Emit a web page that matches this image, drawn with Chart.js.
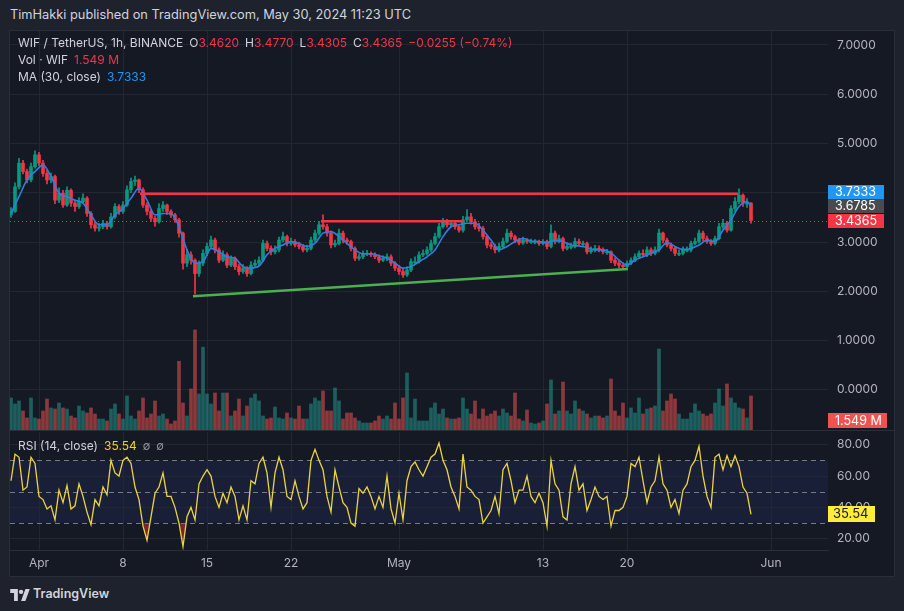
<!DOCTYPE html>
<html>
<head>
<meta charset="utf-8">
<script src="https://cdn.jsdelivr.net/npm/chart.js@4.4.1/dist/chart.umd.min.js"></script>
<style>
  html, body { margin: 0; padding: 0; }
  body { width: 904px; height: 611px; background: #1e222d; position: relative; overflow: hidden;
         font-family: Inter, "Noto Sans", sans-serif; }
  #title { position: absolute; left: 10px; top: 7px; font-size: 12.8px; color: #d1d4dc; }
  #frame { position: absolute; left: 9px; top: 30px; width: 884px; height: 545px;
           background: #151924; border: 1px solid #2a2e39; }
  canvas { position: absolute; }
  #main { left: 10px; top: 31px; }
  #rsi { left: 10px; top: 431px; }
  #sep { position: absolute; left: 10px; top: 430px; width: 884px; height: 1px; background: #2a2e39; }
  .legend { position: absolute; left: 18px; font-size: 12px; line-height: 16px; color: #d1d4dc; white-space: pre; }
  .r { color: #f23645; }
  .b { color: #2196f3; }
  .yl { color: #f5d21e; }
  .gr { color: #9598a1; font-size: 11px; }
  .sp { margin-left: 6px; }
  #footer { position: absolute; left: 10px; top: 585px; height: 18px; color: #d1d4dc; font-size: 12.5px; font-weight: 600; }
  #footer svg { position: absolute; left: 0; top: 3px; }
  #footer span { position: absolute; left: 23px; top: 1px; white-space: nowrap; }
</style>
</head>
<body>
<div id="title">TimHakki published on TradingView.com, May 30, 2024 11:23 UTC</div>
<div id="frame"></div>
<canvas id="main" width="884" height="399"></canvas>
<div id="sep"></div>
<canvas id="rsi" width="884" height="145"></canvas>

<div class="legend" style="top:35px">WIF / TetherUS, 1h, BINANCE<span class="sp">O</span><span class="r">3.4620</span><span class="sp">H</span><span class="r">3.4770</span><span class="sp">L</span><span class="r">3.4305</span><span class="sp">C</span><span class="r">3.4365</span><span class="sp r">−0.0255 (−0.74%)</span></div>
<div class="legend" style="top:52px">Vol · WIF<span class="sp r">1.549 M</span></div>
<div class="legend" style="top:69px">MA (30, close)<span class="sp b">3.7333</span></div>
<div class="legend" style="top:438px">RSI (14, close)<span class="sp yl">35.54</span><span class="sp gr">∅</span><span class="sp gr">∅</span></div>

<div id="footer">
  <svg width="20" height="13" viewBox="0 0 36 24"><path d="M14 24H7V9H0V2h14v22z" fill="#d1d4dc"/><circle cx="20" cy="7" r="4" fill="#d1d4dc"/><path d="M28 24h-8l8-22h8z" fill="#d1d4dc"/></svg>
  <span>TradingView</span>
</div>

<script>
"use strict";

// 8-hour candles; time in days from Apr 1 00:00 UTC
var startDay = -2.3333;
var stepDay = 1 / 3;
var firstOpen = 3.55;

var closes = [
  3.62,4.12,4.60,4.43,4.26,4.53,4.77,4.60,4.39,4.26,
  4.33,3.85,3.99,3.75,4.05,3.79,3.72,3.82,3.89,3.58,
  3.35,3.28,3.31,3.38,3.31,3.51,3.72,3.62,3.75,4.06,
  4.23,4.26,4.06,3.75,3.62,3.48,3.41,3.68,3.75,3.62,
  3.55,3.45,3.18,2.57,2.74,2.63,2.36,2.57,2.77,2.91,
  3.04,2.84,2.63,2.74,2.53,2.67,2.50,2.40,2.47,2.36,
  2.53,2.57,2.63,2.97,2.87,2.80,2.84,3.04,3.11,2.97,
  3.01,2.94,2.91,2.84,2.87,3.04,3.18,3.35,3.31,3.18,
  2.94,2.97,3.18,3.04,3.01,2.87,2.67,2.70,2.77,2.77,
  2.74,2.70,2.63,2.67,2.70,2.57,2.47,2.40,2.33,2.43,
  2.60,2.60,2.74,2.77,2.84,2.97,3.11,3.31,3.41,3.35,
  3.38,3.31,3.24,3.45,3.51,3.41,3.31,3.28,3.11,2.94,
  2.91,2.84,2.91,3.01,3.18,3.11,3.04,2.98,3.04,3.01,
  3.01,3.01,2.97,3.01,2.91,3.18,3.01,3.07,2.87,2.91,
  2.91,3.01,2.97,2.97,2.80,2.84,2.87,2.84,2.80,2.80,
  2.63,2.57,2.53,2.50,2.57,2.63,2.70,2.77,2.74,2.84,
  2.77,2.84,3.18,3.04,2.94,2.87,2.77,2.77,2.84,2.84,
  2.97,3.01,3.18,3.07,3.01,2.97,3.07,3.31,3.38,3.24,
  3.68,3.82,3.95,3.79,3.79,3.4365
];

var highs = [
  3.70,4.20,4.70,4.66,4.48,4.60,4.85,4.82,4.66,4.45,
  4.40,4.36,4.10,4.05,4.12,4.08,3.85,3.90,3.98,3.92,
  3.62,3.40,3.38,3.44,3.42,3.58,3.78,3.76,3.82,4.14,
  4.30,4.34,4.28,4.10,3.80,3.65,3.52,3.78,3.82,3.77,
  3.66,3.58,3.48,3.20,2.85,2.80,2.66,2.62,2.84,2.98,
  3.12,3.08,2.88,2.82,2.78,2.72,2.70,2.55,2.54,2.50,
  2.60,2.64,2.70,3.04,3.02,2.92,2.92,3.10,3.20,3.14,
  3.08,3.05,3.00,2.95,2.94,3.10,3.24,3.42,3.55,3.36,
  3.22,3.04,3.26,3.22,3.08,3.04,2.90,2.76,2.82,2.83,
  2.80,2.78,2.74,2.72,2.76,2.74,2.60,2.52,2.46,2.50,
  2.66,2.70,2.80,2.84,2.90,3.04,3.18,3.38,3.48,3.46,
  3.44,3.42,3.36,3.52,3.66,3.58,3.46,3.38,3.32,3.14,
  2.99,2.96,2.98,3.08,3.26,3.22,3.14,3.08,3.10,3.07,
  3.06,3.05,3.04,3.05,3.04,3.35,3.22,3.14,3.10,2.98,
  2.98,3.08,3.06,3.02,3.00,2.90,2.93,2.92,2.88,2.85,
  2.82,2.68,2.62,2.58,2.62,2.68,2.76,2.82,2.84,2.90,
  2.88,2.90,3.26,3.20,3.08,2.98,2.90,2.84,2.90,2.90,
  3.02,3.08,3.24,3.22,3.12,3.05,3.12,3.38,3.46,3.42,
  3.74,3.90,4.08,3.98,3.88,3.80
];

var lows = [
  3.50,3.60,4.08,4.38,4.20,4.22,4.50,4.55,4.33,4.18,
  4.20,3.78,3.80,3.70,3.72,3.72,3.62,3.68,3.78,3.52,
  3.28,3.22,3.22,3.27,3.26,3.28,3.48,3.56,3.58,3.72,
  4.00,4.15,4.00,3.70,3.55,3.42,3.32,3.38,3.62,3.56,
  3.50,3.40,3.10,2.45,2.50,2.55,1.94,2.30,2.52,2.72,
  2.86,2.78,2.58,2.60,2.48,2.50,2.44,2.33,2.36,2.30,
  2.33,2.48,2.52,2.60,2.82,2.74,2.76,2.80,3.00,2.92,
  2.93,2.90,2.86,2.80,2.80,2.84,3.00,3.14,3.26,3.12,
  2.88,2.90,2.94,2.98,2.95,2.82,2.62,2.63,2.66,2.72,
  2.70,2.66,2.58,2.60,2.62,2.52,2.42,2.34,2.28,2.30,
  2.40,2.55,2.57,2.70,2.74,2.80,2.94,3.08,3.28,3.30,
  3.30,3.26,3.20,3.20,3.42,3.36,3.26,3.22,3.06,2.88,
  2.86,2.78,2.80,2.88,2.98,3.06,2.98,2.94,2.95,2.97,
  2.97,2.96,2.93,2.94,2.86,2.88,2.96,2.98,2.82,2.84,
  2.86,2.88,2.93,2.92,2.76,2.77,2.80,2.80,2.76,2.75,
  2.58,2.52,2.48,2.44,2.46,2.54,2.60,2.66,2.70,2.70,
  2.72,2.74,2.80,2.98,2.90,2.82,2.72,2.72,2.74,2.80,
  2.80,2.94,2.98,3.02,2.97,2.93,2.94,3.04,3.26,3.20,
  3.22,3.62,3.78,3.72,3.70,3.38
];

// volume in millions (WIF)
var volumes = [
  5.22,4.24,4.73,3.10,1.96,5.22,1.96,1.79,3.10,5.05,
  3.59,3.42,4.40,3.59,3.42,2.28,1.96,3.91,3.10,2.77,
  3.59,2.61,1.79,1.79,1.47,3.42,4.24,2.61,1.79,5.54,
  2.28,1.79,3.10,5.22,1.96,2.61,4.73,2.28,2.61,1.79,
  0.98,1.47,11.2,4.40,2.28,6.68,16.3,5.87,13.5,5.87,
  4.24,6.03,3.10,6.03,6.03,2.28,3.10,5.05,2.28,3.91,
  5.22,5.87,4.73,2.28,1.79,1.96,3.75,1.96,1.79,2.77,
  1.96,1.79,3.91,1.79,1.79,4.24,5.22,4.73,6.36,3.10,
  3.10,6.85,4.73,1.79,2.77,2.77,1.96,1.47,1.14,1.14,
  1.14,1.47,2.28,1.79,2.28,1.79,4.40,1.79,5.22,9.29,
  1.96,5.05,1.47,1.47,1.47,3.59,4.40,2.61,3.42,1.96,
  1.79,1.79,1.96,5.22,3.42,2.61,4.73,1.79,3.42,2.28,
  2.61,3.10,2.28,3.42,2.77,2.28,6.03,1.79,1.47,3.26,
  1.14,0.98,1.14,1.47,4.24,8.15,2.61,3.10,7.82,3.10,
  2.61,4.73,3.42,3.10,2.61,1.96,2.28,2.28,1.96,2.28,
  8.31,3.10,2.28,4.40,1.96,3.59,2.77,5.22,2.61,3.42,
  3.59,3.91,13.2,3.10,4.73,5.87,5.05,2.61,1.79,1.79,
  2.77,4.24,3.10,2.61,2.28,2.61,4.40,6.68,3.91,7.50,
  5.22,4.40,3.59,3.42,1.96,5.54
];

var rsiValues = [
  57,74,72,51,53,72,68,47,45,39,
  41,32,51,43,54,39,41,55,47,37,
  29,45,41,53,48,70,62,60,70,72,
  68,53,45,28,19,34,49,53,62,47,
  47,40,30,15,34,40,32,55,60,64,
  60,47,40,49,43,53,47,32,41,32,
  57,55,68,72,62,40,62,72,64,47,
  45,57,47,39,43,70,77,70,64,47,
  37,64,53,43,40,30,28,52,49,53,
  47,39,47,40,60,39,30,49,32,57,
  66,69,64,60,66,72,74,81,70,64,
  53,47,39,74,53,51,47,45,30,34,
  38,47,36,64,68,57,43,51,51,60,
  47,43,49,43,28,70,55,51,34,32,
  55,66,51,55,38,45,53,47,45,47,
  28,38,38,40,47,68,66,72,57,43,
  53,57,72,55,51,40,45,36,51,55,
  66,70,79,60,47,40,72,74,64,73,
  66,73,66,53,49,35.54
];

// MA(30) read at every second candle, plus the last one
var maValues = [
  3.58,3.92,4.26,4.43,4.56,4.33,3.99,3.92,3.85,3.79,
  3.55,3.35,3.35,3.55,3.68,3.89,4.09,3.85,3.55,3.58,
  3.58,3.31,2.84,2.57,2.60,2.87,2.80,2.70,2.67,2.50,
  2.47,2.51,2.74,2.87,2.94,3.01,2.97,2.91,2.97,3.18,
  3.21,3.11,2.97,2.84,2.76,2.76,2.72,2.67,2.57,2.47,
  2.50,2.60,2.70,2.84,3.11,3.31,3.35,3.38,3.38,3.24,
  3.04,2.84,2.91,3.01,3.07,3.02,3.01,2.99,3.03,3.01,
  2.94,2.92,2.89,2.84,2.84,2.78,2.63,2.53,2.63,2.70,
  2.77,2.84,2.99,2.91,2.85,2.87,2.94,3.04,3.01,3.24,
  3.45,3.72,3.82,3.7333
];

var lastClose = 3.4365;
var lastMa = 3.7333;
var prevPrice = 3.6785;
var lastVolume = 1.549;
var lastRsi = 35.54;

// drawn trend lines: [day, price]
var resistanceLine = [[8.42, 3.98], [58.25, 3.98]];
var rangeTopLine = [[23.5, 3.42], [35.33, 3.42]];
var supportLine = [[12.83, 1.90], [49.08, 2.45]];

var tickDays = [0, 7, 14, 21, 30, 42, 49, 61];
var tickLabels = ['Apr', '8', '15', '22', 'May', '13', '20', 'Jun'];
var priceTicks = [0, 1, 2, 3, 4, 5, 6, 7];
var rsiTicks = [20, 40, 60, 80];

var xMin = -2.4167, xMax = 65.75;
var priceMin = -0.817, priceMax = 7.284;
var volMax = 65;
var rsiMin = 12.8, rsiMax = 88.1;

var upColor = '#089981';
var downColor = '#f23645';
var gridColor = '#232733';
var tickColor = '#b2b5be';

Chart.defaults.font.family = 'Inter, "Noto Sans", sans-serif';

var times = closes.map(function (c, i) { return startDay + i * stepDay; });
var opens = closes.map(function (c, i) { return i === 0 ? firstOpen : closes[i - 1]; });
var isUp = closes.map(function (c, i) { return c >= opens[i]; });

var wickData = times.map(function (t, i) { return { x: t, y: [lows[i], highs[i]] }; });
var bodyData = times.map(function (t, i) { return { x: t, y: [opens[i], closes[i]] }; });
var volData = times.map(function (t, i) { return { x: t, y: volumes[i] }; });
var rsiData = times.map(function (t, i) { return { x: t, y: rsiValues[i] }; });
var maData = maValues.map(function (v, k) {
  var idx = k < maValues.length - 1 ? 2 * k : closes.length - 1;
  return { x: times[idx], y: v };
});
var candleColors = isUp.map(function (u) { return u ? upColor : downColor; });
var volColors = isUp.map(function (u) { return u ? 'rgba(38,166,154,0.5)' : 'rgba(239,83,80,0.55)'; });

function toPoints(line) {
  return line.map(function (p) { return { x: p[0], y: p[1] }; });
}

function drawTag(ctx, x, cy, w, h, text, bg, fg) {
  var top = Math.round(cy - h / 2);
  ctx.save();
  ctx.fillStyle = bg;
  ctx.fillRect(x, top, w, h);
  ctx.fillStyle = fg;
  ctx.font = '12.5px Inter, "Noto Sans", sans-serif';
  ctx.textBaseline = 'middle';
  ctx.textAlign = 'left';
  ctx.fillText(text, x + 7, top + h / 2 + 0.5);
  ctx.restore();
}

var mainPlugin = {
  id: 'mainExtras',
  beforeDatasetsDraw: function (chart) {
    var ctx = chart.ctx, area = chart.chartArea;
    var y = Math.round(chart.scales.y.getPixelForValue(lastClose)) + 0.5;
    ctx.save();
    ctx.strokeStyle = '#f23645';
    ctx.lineWidth = 1;
    ctx.setLineDash([1, 3]);
    ctx.beginPath();
    ctx.moveTo(area.left, y);
    ctx.lineTo(area.right, y);
    ctx.stroke();
    ctx.restore();
  },
  afterDraw: function (chart) {
    var ctx = chart.ctx, area = chart.chartArea;
    var redY = chart.scales.y.getPixelForValue(lastClose);
    drawTag(ctx, area.right, redY, 56, 14, lastClose.toFixed(4), '#f23645', '#ffffff');
    drawTag(ctx, area.right, redY - 14.5, 56, 14, prevPrice.toFixed(4), '#4a4b4f', '#ffffff');
    drawTag(ctx, area.right, redY - 29, 56, 14, lastMa.toFixed(4), '#2196f3', '#ffffff');
    drawTag(ctx, area.right, chart.scales.vol.getPixelForValue(lastVolume), 59, 15, lastVolume.toFixed(3) + ' M', '#ef5350', '#ffffff');
  }
};

var rsiPlugin = {
  id: 'rsiExtras',
  beforeDraw: function (chart) {
    var ctx = chart.ctx, area = chart.chartArea, ys = chart.scales.y;
    var top = ys.getPixelForValue(70), bottom = ys.getPixelForValue(30);
    ctx.save();
    ctx.fillStyle = '#1a1f38';
    ctx.fillRect(area.left, top, area.right - area.left, bottom - top);
    ctx.restore();
  },
  beforeDatasetsDraw: function (chart) {
    var ctx = chart.ctx, area = chart.chartArea, ys = chart.scales.y;
    ctx.save();
    ctx.strokeStyle = '#787b86';
    ctx.lineWidth = 1;
    ctx.setLineDash([5, 4]);
    [30, 50, 70].forEach(function (v) {
      var y = Math.round(ys.getPixelForValue(v)) + 0.5;
      ctx.beginPath();
      ctx.moveTo(area.left, y);
      ctx.lineTo(area.right, y);
      ctx.stroke();
    });
    ctx.restore();
  },
  afterDraw: function (chart) {
    var ctx = chart.ctx, area = chart.chartArea;
    var y = chart.scales.y.getPixelForValue(lastRsi);
    ctx.save();
    ctx.fillStyle = '#ffeb3b';
    ctx.fillRect(area.right, Math.round(y - 8), 47, 16);
    ctx.fillStyle = '#131722';
    ctx.font = '13px Inter, "Noto Sans", sans-serif';
    ctx.textBaseline = 'middle';
    ctx.fillText(lastRsi.toFixed(2), area.right + 5, Math.round(y - 8) + 8.5);
    ctx.restore();
  }
};

function setTicks(list) {
  return function (scale) {
    scale.ticks = list.map(function (v) { return { value: v }; });
  };
}

var mainChart = new Chart(document.getElementById('main'), {
  type: 'bar',
  data: {
    datasets: [
      { type: 'bar', data: volData, yAxisID: 'vol', backgroundColor: volColors,
        barThickness: 3, grouped: false, order: 10 },
      { type: 'bar', data: wickData, yAxisID: 'y', backgroundColor: candleColors,
        barThickness: 1, grouped: false, order: 5 },
      { type: 'bar', data: bodyData, yAxisID: 'y', backgroundColor: candleColors,
        barThickness: 3, grouped: false, minBarLength: 1, order: 4 },
      { type: 'line', data: maData, yAxisID: 'y', borderColor: '#2f7fe0', borderWidth: 1.6,
        pointRadius: 0, cubicInterpolationMode: 'monotone', order: 2 },
      { type: 'line', data: toPoints(resistanceLine), yAxisID: 'y', borderColor: '#f23645',
        borderWidth: 2.5, pointRadius: 0, order: 1 },
      { type: 'line', data: toPoints(rangeTopLine), yAxisID: 'y', borderColor: '#f23645',
        borderWidth: 2.5, pointRadius: 0, order: 1 },
      { type: 'line', data: toPoints(supportLine), yAxisID: 'y', borderColor: '#4caf50',
        borderWidth: 2.5, pointRadius: 0, order: 1 }
    ]
  },
  options: {
    responsive: false,
    animation: false,
    events: [],
    layout: { padding: 0 },
    plugins: { legend: { display: false }, tooltip: { enabled: false } },
    scales: {
      x: {
        type: 'linear', min: xMin, max: xMax, offset: false,
        grid: { color: gridColor, drawTicks: false, offset: false },
        border: { display: false },
        ticks: { display: false },
        afterBuildTicks: setTicks(tickDays),
        afterFit: function (s) { s.height = 0; s.paddingLeft = 0; s.paddingRight = 0; }
      },
      y: {
        type: 'linear', position: 'right', min: priceMin, max: priceMax,
        grid: { color: gridColor, drawTicks: false },
        border: { display: false },
        ticks: { color: tickColor, padding: 9, autoSkip: false, font: { size: 12 },
                 callback: function (v) { return v.toFixed(4); } },
        afterBuildTicks: setTicks(priceTicks),
        afterFit: function (s) { s.width = 66; s.paddingTop = 0; s.paddingBottom = 0; }
      },
      vol: { type: 'linear', display: false, min: 0, max: volMax }
    }
  },
  plugins: [mainPlugin]
});

var rsiChart = new Chart(document.getElementById('rsi'), {
  type: 'line',
  data: {
    datasets: [{
      data: rsiData, borderColor: '#ecd440', borderWidth: 1.3, pointRadius: 0,
      fill: { target: { value: 30 }, above: 'rgba(0,0,0,0)', below: 'rgba(242,54,69,0.45)' }
    }]
  },
  options: {
    responsive: false,
    animation: false,
    events: [],
    layout: { padding: { top: 1 } },
    plugins: { legend: { display: false }, tooltip: { enabled: false } },
    scales: {
      x: {
        type: 'linear', min: xMin, max: xMax,
        grid: { color: gridColor, drawTicks: false },
        border: { display: true, color: '#2a2e39' },
        ticks: { color: tickColor, padding: 6, autoSkip: false, maxRotation: 0, font: { size: 12 },
                 callback: function (v) { return tickLabels[tickDays.indexOf(v)]; } },
        afterBuildTicks: setTicks(tickDays),
        afterFit: function (s) { s.height = 26; s.paddingLeft = 0; s.paddingRight = 0; }
      },
      y: {
        type: 'linear', position: 'right', min: rsiMin, max: rsiMax,
        grid: { color: gridColor, drawTicks: false },
        border: { display: false },
        ticks: { color: tickColor, padding: 9, autoSkip: false, font: { size: 12 },
                 callback: function (v) { return v.toFixed(2); } },
        afterBuildTicks: setTicks(rsiTicks),
        afterFit: function (s) { s.width = 66; s.paddingTop = 0; s.paddingBottom = 0; }
      }
    }
  },
  plugins: [rsiPlugin]
});
</script>
</body>
</html>
